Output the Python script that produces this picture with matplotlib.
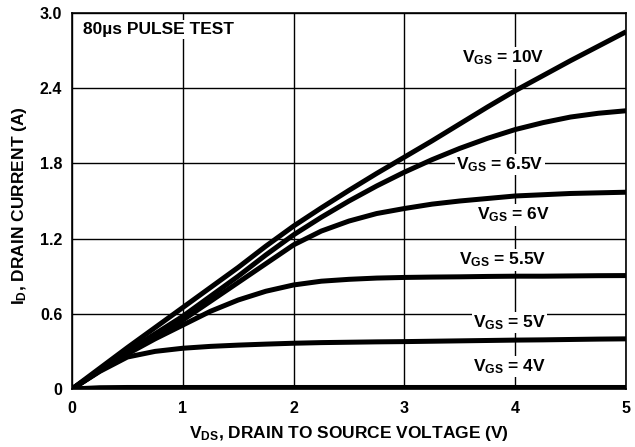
import numpy as np
import matplotlib
matplotlib.use("Agg")
import matplotlib.pyplot as plt

# Drain current vs drain-source voltage
vds = [0, 0.25, 0.5, 0.75, 1.0, 1.25, 1.5, 1.75, 2.0, 2.25, 2.5, 2.75,
       3.0, 3.25, 3.5, 3.75, 4.0, 4.25, 4.5, 4.75, 5.0]

id_10v = [0, 0.165, 0.33, 0.49, 0.65, 0.81, 0.97, 1.14, 1.30, 1.445, 1.585,
          1.72, 1.85, 1.98, 2.115, 2.25, 2.38, 2.50, 2.62, 2.735, 2.85]
id_6v5 = [0, 0.15, 0.30, 0.44, 0.58, 0.74, 0.90, 1.07, 1.23, 1.37, 1.50,
          1.62, 1.73, 1.83, 1.92, 2.00, 2.07, 2.125, 2.17, 2.20, 2.22]
id_6v = [0, 0.145, 0.29, 0.42, 0.55, 0.70, 0.85, 1.00, 1.15, 1.26, 1.34,
         1.40, 1.44, 1.475, 1.50, 1.52, 1.54, 1.55, 1.56, 1.565, 1.57]
id_5v5 = [0, 0.145, 0.28, 0.40, 0.51, 0.62, 0.71, 0.78, 0.83, 0.86, 0.875,
          0.885, 0.89, 0.893, 0.895, 0.898, 0.90, 0.90, 0.902, 0.904, 0.905]
id_5v = [0, 0.14, 0.255, 0.30, 0.325, 0.34, 0.35, 0.358, 0.365, 0.37, 0.373,
         0.376, 0.378, 0.381, 0.384, 0.387, 0.39, 0.392, 0.395, 0.398, 0.40]
id_4v = [0, 0.01, 0.012, 0.012, 0.012, 0.012, 0.012, 0.012, 0.012, 0.012, 0.012,
         0.012, 0.012, 0.012, 0.012, 0.012, 0.012, 0.012, 0.012, 0.012, 0.012]

curves = [id_10v, id_6v5, id_6v, id_5v5, id_5v, id_4v]
labels = ["10V", "6.5V", "6V", "5.5V", "5V", "4V"]
label_pos = [(3.89, 2.64), (3.86, 1.79), (3.98, 1.39), (3.89, 1.03), (3.95, 0.53), (3.95, 0.18)]

xticks = [0, 1, 2, 3, 4, 5]
yticks = [0, 0.6, 1.2, 1.8, 2.4, 3.0]
ytick_labels = ["0", "0.6", "1.2", "1.8", "2.4", "3.0"]

plt.rcParams['font.family'] = ['Liberation Sans', 'DejaVu Sans']
plt.rcParams['font.weight'] = 'bold'
plt.rcParams['mathtext.fontset'] = 'custom'
plt.rcParams['mathtext.rm'] = 'Liberation Sans:bold'
plt.rcParams['mathtext.it'] = 'Liberation Sans:bold'
plt.rcParams['mathtext.bf'] = 'Liberation Sans:bold'

fig = plt.figure(figsize=(6.35, 4.47), dpi=100)
ax = fig.add_axes([0.1134, 0.1298, 0.8724, 0.8411])

for yv in curves:
    ax.plot(vds, yv, color='black', lw=3.6, solid_capstyle='butt', zorder=3)

for lab, (tx, ty) in zip(labels, label_pos):
    ax.text(tx, ty, r'V$_{\mathrm{GS}}$ = ' + lab, ha='center', va='center',
            fontsize=12.5, fontweight='bold', zorder=2,
            bbox=dict(facecolor='white', edgecolor='none', pad=1.0))

ax.text(0.1, 2.87, '80µs PULSE TEST', ha='left', va='center',
        fontsize=12.5, fontweight='bold', zorder=2,
        bbox=dict(facecolor='white', edgecolor='none', pad=1.5))

ax.set_xlim(0, 5)
ax.set_ylim(0, 3.0)
ax.set_xticks(xticks)
ax.set_yticks(yticks)
ax.set_yticklabels(ytick_labels)
ax.tick_params(length=0, labelsize=11.5)
ax.tick_params(axis='x', pad=9)
ax.tick_params(axis='y', pad=7)
for lbl in ax.get_xticklabels() + ax.get_yticklabels():
    lbl.set_fontweight('bold')
ax.grid(True, color='black', lw=1.0, zorder=1)
ax.set_axisbelow(True)
for sp in ax.spines.values():
    sp.set_linewidth(1.2)

ax.set_xlabel(r'V$_{\mathrm{DS}}$, DRAIN TO SOURCE VOLTAGE (V)', fontsize=12.5,
              fontweight='bold')
ax.set_ylabel(r'I$_{\mathrm{D}}$, DRAIN CURRENT (A)', fontsize=12.5,
              fontweight='bold')
ax.xaxis.set_label_coords(0.5, -0.093)
ax.yaxis.set_label_coords(-0.077, 0.487)

fig.savefig('out.png', dpi=100)
